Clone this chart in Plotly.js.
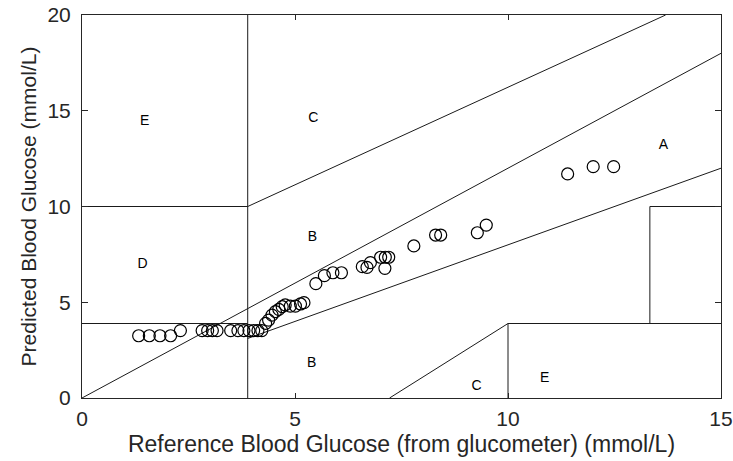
<!DOCTYPE html>
<html>
<head>
<meta charset="utf-8">
<script src="https://cdn.plot.ly/plotly-3.0.1.min.js"></script>
<style>html,body{margin:0;padding:0;background:#fff;}#chart{width:733px;height:461px;}</style>
</head>
<body>
<div id="chart"></div>
<script>
// Measured points: reference (x) vs predicted (y), mmol/L
const refX = [1.33, 1.58, 1.83, 2.08, 2.31,
  2.82, 2.95, 3.06, 3.17,
  3.49, 3.66, 3.80, 3.92, 4.03, 4.13, 4.22,
  4.31, 4.38, 4.46, 4.54, 4.62, 4.70, 4.77, 4.89, 5.01, 5.13, 5.21,
  5.49, 5.69, 5.89, 6.09, 6.58, 6.69, 6.77, 7.01, 7.12, 7.20, 7.11,
  7.79, 8.30, 8.42, 9.28, 9.49,
  11.40, 12.00, 12.48];
const predY = [3.25, 3.25, 3.25, 3.25, 3.52,
  3.52, 3.52, 3.52, 3.52,
  3.52, 3.52, 3.52, 3.52, 3.52, 3.52, 3.52,
  3.90, 4.07, 4.33, 4.51, 4.63, 4.77, 4.86, 4.80, 4.80, 4.91, 4.98,
  5.97, 6.39, 6.54, 6.54, 6.86, 6.82, 7.07, 7.35, 7.35, 7.35, 6.77,
  7.94, 8.51, 8.51, 8.63, 9.03,
  11.70, 12.08, 12.08];

// Clarke error grid zone boundaries (mmol/L), segments separated by null
const gridX = [0, 3.89, null, 3.89, 3.89, null, 0, 3.89, null, 3.89, 13.7, null,
  0, 15, null, 3.89, 15, null, 7.22, 10, null, 10, 10, null, 10, 15, null,
  13.33, 13.33, null, 13.33, 15];
const gridY = [3.89, 3.89, null, 0, 20, null, 10, 10, null, 10, 20, null,
  0, 18, null, 3.11, 12, null, 0, 3.89, null, 0, 3.89, null, 3.89, 3.89, null,
  3.89, 10, null, 10, 10];

// Zone labels
const zoneText = ['E', 'C', 'B', 'D', 'A', 'B', 'C', 'E'];
const zoneX = [1.47, 5.43, 5.41, 1.42, 13.65, 5.39, 9.26, 10.86];
const zoneY = [14.46, 14.57, 8.36, 6.95, 13.2, 1.78, 0.62, 1.02];

const xTicks = [0, 5, 10, 15];
const yTicks = [0, 5, 10, 15, 20];

const FAM = 'Liberation Sans, Arial, sans-serif';
const traces = [
  {x: gridX, y: gridY, type: 'scatter', mode: 'lines',
   line: {color: '#1a1a1a', width: 1}, hoverinfo: 'skip', connectgaps: false},
  {x: refX, y: predY, type: 'scatter', mode: 'markers',
   marker: {symbol: 'circle-open', size: 12, color: '#000', line: {width: 1.2, color: '#000'}}},
  {x: zoneX, y: zoneY, text: zoneText, type: 'scatter', mode: 'text',
   textposition: 'middle center', textfont: {family: FAM, size: 14, color: '#000'}}
];

const axFont = {family: FAM, size: 21, color: '#262626'};
const layout = {
  width: 733, height: 461,
  margin: {l: 81.5, r: 12, t: 15, b: 63},
  paper_bgcolor: '#fff', plot_bgcolor: '#fff',
  showlegend: false,
  xaxis: {range: [0, 15], tickvals: xTicks, ticktext: xTicks.map(String),
    ticks: 'inside', ticklen: 5, tickcolor: '#262626', mirror: 'ticks',
    showline: true, linecolor: '#262626', linewidth: 1, showgrid: false, zeroline: false,
    tickfont: axFont, ticklabelstandoff: 2,
    title: {text: 'Reference Blood Glucose (from glucometer) (mmol/L)', font: {family: FAM, size: 23, color: '#262626'}, standoff: 6}},
  yaxis: {range: [0, 20], tickvals: yTicks, ticktext: yTicks.map(String),
    ticks: 'inside', ticklen: 6, tickcolor: '#262626', mirror: 'ticks',
    showline: true, linecolor: '#262626', linewidth: 1, showgrid: false, zeroline: false,
    tickfont: axFont, ticklabelstandoff: 6,
    title: {text: 'Predicted Blood Glucose (mmol/L)', font: {family: FAM, size: 21, color: '#262626'}, standoff: 5}}
};
Plotly.newPlot('chart', traces, layout, {displayModeBar: false, staticPlot: true});
</script>
</body>
</html>
